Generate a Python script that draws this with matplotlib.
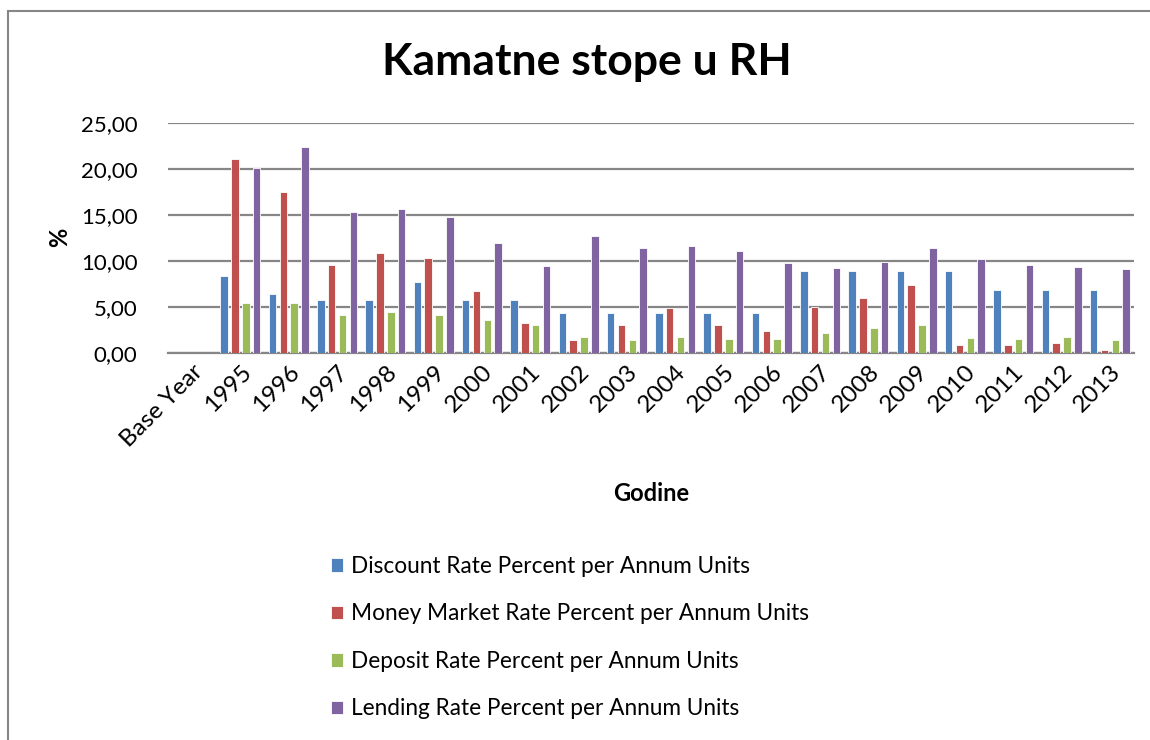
import numpy as np
import matplotlib
matplotlib.use('Agg')
import matplotlib.pyplot as plt
from matplotlib.patches import Rectangle
from matplotlib.ticker import FuncFormatter

plt.rcParams['font.family'] = ['Lato', 'DejaVu Sans']

godine = ['Base Year', '1995', '1996', '1997', '1998', '1999', '2000', '2001', '2002',
          '2003', '2004', '2005', '2006', '2007', '2008', '2009', '2010', '2011',
          '2012', '2013']

# Base Year nema podataka
discount = [np.nan, 8.37, 6.34, 5.72, 5.72, 7.72, 5.72, 5.72, 4.31, 4.31, 4.31,
            4.31, 4.31, 8.84, 8.84, 8.84, 8.84, 6.81, 6.81, 6.81]
money_market = [np.nan, 21.01, 17.46, 9.53, 10.87, 10.25, 6.70, 3.22, 1.41, 3.00,
                4.89, 3.04, 2.32, 4.96, 5.91, 7.39, 0.83, 0.87, 1.09, 0.33]
deposit = [np.nan, 5.36, 5.43, 4.13, 4.46, 4.13, 3.59, 3.04, 1.70, 1.38, 1.70,
           1.52, 1.52, 2.17, 2.64, 3.00, 1.56, 1.52, 1.70, 1.38]
lending = [np.nan, 20.10, 22.39, 15.33, 15.62, 14.78, 11.92, 9.42, 12.68, 11.38,
           11.59, 11.01, 9.78, 9.17, 9.89, 11.41, 10.22, 9.53, 9.31, 9.06]

serije = ['Discount Rate Percent per Annum Units',
          'Money Market Rate Percent per Annum Units',
          'Deposit Rate Percent per Annum Units',
          'Lending Rate Percent per Annum Units']
boje = ['#4F81BD', '#C0504D', '#9BBB59', '#8064A2']

fig = plt.figure(figsize=(11.5, 7.4), dpi=100)
ax = fig.add_axes([168/1150, 1-352.7/740, (1134-168)/1150, (352.7-122.7)/740])

x = np.arange(len(godine))
slot = 0.224
for k, (vals, lab, c) in enumerate(zip([discount, money_market, deposit, lending], serije, boje)):
    ax.bar(x + (k - 1.5)*slot, vals, width=0.155, color=c, label=lab,
           edgecolor='white', linewidth=0.6, zorder=3)

ax.set_xlim(-0.5, len(godine) - 0.5)
ax.set_ylim(0, 25)
ax.set_yticks(np.arange(0, 26, 5))
ax.yaxis.set_major_formatter(FuncFormatter(lambda v, p: ('%.2f' % v).replace('.', ',')))
ax.grid(axis='y', color='#868686', linewidth=1.6, zorder=0)
for s in ['top', 'right', 'left']:
    ax.spines[s].set_visible(False)
ax.spines['bottom'].set_color('#868686')
ax.spines['bottom'].set_linewidth(1.6)
ax.tick_params(axis='y', length=0, labelsize=16, pad=22)
ax.tick_params(axis='x', length=0, labelsize=17.5, pad=6)
ax.set_xticks(x)
ax.set_xticklabels(godine, rotation=45, ha='right', rotation_mode='anchor')

ax.set_xlabel('Godine', fontsize=17, fontweight='bold', labelpad=22)
fig.text(60/1150, 1-237/740, '%', rotation=90, fontsize=17, fontweight='bold',
         ha='center', va='center')
fig.text(587/1150, 1-62/740, 'Kamatne stope u RH', fontsize=32, fontweight='bold',
         ha='center', va='center')

h, l = ax.get_legend_handles_labels()
fig.legend(h, l, loc='upper left', bbox_to_anchor=(331/1150, 1-556/740), frameon=False,
           fontsize=16.3, handlelength=0.55, handleheight=0.55, handletextpad=0.35,
           labelspacing=1.17, borderpad=0, borderaxespad=0)

# okvir grafikona
fig.patches.append(Rectangle((8/1150, -0.1), 1.2, 1 - 10.7/740 + 0.1, transform=fig.transFigure,
                             fill=False, edgecolor='#868686', linewidth=1.5, zorder=0))

fig.savefig('out.png', dpi=100)
